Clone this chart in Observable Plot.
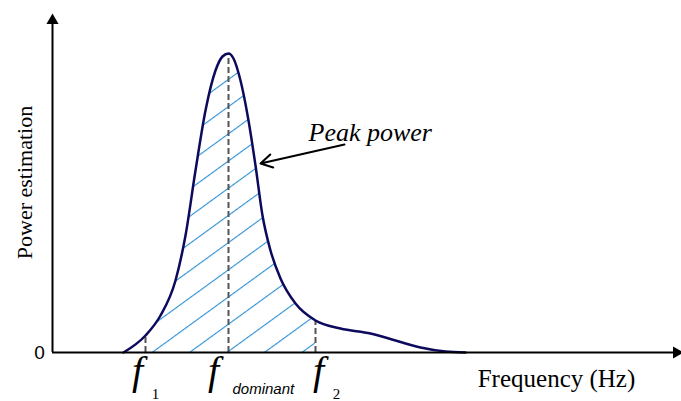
<!DOCTYPE html>
<html><head><meta charset="utf-8">
<script src="https://cdn.jsdelivr.net/npm/d3@7"></script>
<script src="https://cdn.jsdelivr.net/npm/@observablehq/plot@0.6"></script>
<style>body{margin:0;background:#fff}</style>
</head><body><div id="chart"></div>
<script>
// curve (frequency units, power units)
const freq  = [71, 93, 108, 123, 133, 143, 153, 163, 170, 176, 181, 188, 196, 203, 210, 218, 228, 243, 263, 288, 318, 343, 368, 393, 413]
const power = [0, 17, 37, 72, 117, 182, 242, 282, 296, 299, 294, 272, 232, 187, 137, 102, 74, 49, 32, 24, 19, 12, 5, 1, 0]
const f1 = 93, fDom = 176, f2 = 263
const markers = [f1, fDom, f2]
const markerPower = [17, 299, 32]
const fLabelX = [85, 161, 266]

const curve = freq.map((f, i) => ({f, p: power[i]}))
const band = curve.filter(d => d.f >= f1 && d.f <= f2)
const serif = "Liberation Serif, Times New Roman, serif"

const plot = Plot.plot({
  width: 681, height: 401,
  marginLeft: 52, marginRight: 0, marginTop: 15, marginBottom: 49,
  x: {domain: [0, 629], axis: null},
  y: {domain: [0, 337], axis: null},
  marks: [
    Plot.areaY(band, {x: "f", y: "p", curve: "monotone-x", fill: "url(#hatch)"}),
    Plot.ruleX(markers, {x: d => d, y1: 0, y2: (d, i) => markerPower[i], stroke: "#555", strokeWidth: 2, strokeDasharray: "6,3"}),
    Plot.line(curve, {x: "f", y: "p", curve: "monotone-x", stroke: "#0d0a5e", strokeWidth: 2.5}),
    // axes
    Plot.ruleY([0], {x1: 0, x2: 622, stroke: "#000", strokeWidth: 2}),
    Plot.ruleX([0], {y1: 0, y2: 330, stroke: "#000", strokeWidth: 2}),
    Plot.dot([{x: 624, y: 0, r: 90}, {x: 0, y: 332, r: 0}], {x: "x", y: "y", rotate: "r", symbol: "triangle", r: 4.5, fill: "#000"}),
    Plot.text(["0"], {x: 0, y: 0, dx: -13, text: d => d, fontSize: 19, fontFamily: "Liberation Sans, Arial, sans-serif", fill: "#000"}),
    Plot.text(["Power estimation"], {x: 0, y: 170, dx: -28, rotate: -90, text: d => d, fontSize: 22, fontFamily: serif, fill: "#000"}),
    Plot.text(["Frequency (Hz)"], {x: 504, y: 0, dy: 26, text: d => d, fontSize: 25, fontFamily: serif, fill: "#000"}),
    Plot.text(["f", "f", "f"], {x: (d, i) => fLabelX[i], y: 0, dy: 19, lineAnchor: "middle", text: d => d, fontSize: 40, fontStyle: "italic", fontFamily: serif, fill: "#000"}),
    Plot.text(["1", "2"], {x: (d, i) => [fLabelX[0], fLabelX[2]][i], y: 0, dx: 18, dy: 42, text: d => d, fontSize: 15, fontFamily: serif, fill: "#000"}),
    Plot.text(["dominant"], {x: fDom, y: 0, dx: 4, dy: 37, textAnchor: "start", text: d => d, fontSize: 15, fontStyle: "italic", fontFamily: "Liberation Sans, Arial, sans-serif", fill: "#000"}),
    Plot.text(["Peak power"], {x: 256, y: 220, textAnchor: "start", text: d => d, fontSize: 26, fontStyle: "italic", fontFamily: serif, fill: "#000"}),
    Plot.arrow([{x1: 292, y1: 208, x2: 208, y2: 189}], {x1: "x1", y1: "y1", x2: "x2", y2: "y2", stroke: "#000", strokeWidth: 2, headLength: 10, bend: false})
  ]
})

// hatch pattern for the band between f1 and f2
const defs = d3.select(plot).insert("defs", ":first-child")
const pat = defs.append("pattern").attr("id", "hatch").attr("patternUnits", "userSpaceOnUse")
  .attr("width", 30).attr("height", 22).attr("patternTransform", "rotate(-36)")
pat.append("line").attr("x1", 0).attr("x2", 30).attr("y1", 0.5).attr("y2", 0.5)
  .attr("stroke", "#2a8fd2").attr("stroke-width", 1.2)

document.querySelector("#chart").append(plot)
</script></body></html>
